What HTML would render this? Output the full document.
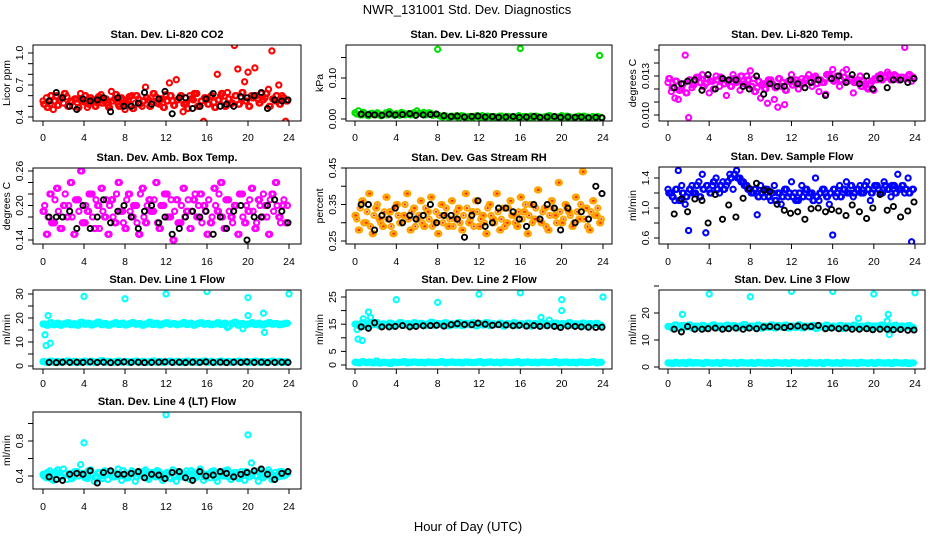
<!DOCTYPE html>
<html><head><meta charset="utf-8"><style>
html,body{margin:0;padding:0;background:#fff;}
svg{display:block;font-family:"Liberation Sans",Arial,sans-serif;}
</style></head><body>
<svg id="chart" width="936" height="540" viewBox="0 0 936 540" xmlns="http://www.w3.org/2000/svg">
<rect width="936" height="540" fill="#fff"/>
<text x="467" y="14" text-anchor="middle" font-size="13">NWR_131001  Std. Dev. Diagnostics</text>
<text x="468" y="531" text-anchor="middle" font-size="13">Hour of Day (UTC)</text>
<g id="panels"></g>
</svg>
<script>
const hC=[0,0.33,0.67,1,1.33,1.67,2,2.33,2.67,3,3.33,3.67,4,4.33,4.67,5,5.33,5.67,6,6.33,6.67,7,7.33,7.67,8,8.33,8.67,9,9.33,9.67,10,10.33,10.67,11,11.33,11.67,12,12.33,12.67,13,13.33,13.67,14,14.33,14.67,15,15.33,15.67,16,16.33,16.67,17,17.33,17.67,18,18.33,18.67,19,19.33,19.67,20,20.33,20.67,21,21.33,21.67,22,22.33,22.67,23,23.33,23.67];
const hK=[0.6,1.3,1.9,2.6,3.3,3.9,4.6,5.3,5.9,6.6,7.3,7.9,8.6,9.3,9.9,10.6,11.3,11.9,12.6,13.3,13.9,14.6,15.3,15.9,16.6,17.3,17.9,18.6,19.3,19.9,20.6,21.3,21.9,22.6,23.3,23.9];
const xTicks=[0,4,8,12,16,20,24];

const co2A=[0.55,0.58,0.52,0.47,0.60,0.56,0.53,0.59,0.55,0.50,0.57,0.62,0.54,0.49,0.58,0.56,0.53,0.61,0.55,0.51,0.64,0.57,0.52,0.58,0.47,0.55,0.60,0.53,0.57,0.50,0.68,0.56,0.54,0.59,0.52,0.57,0.61,0.72,0.55,0.75,0.58,0.45,0.53,0.60,0.56,0.62,0.50,0.36,0.57,0.59,0.54,0.80,0.60,0.55,0.63,0.52,1.07,0.85,0.58,0.73,0.82,0.60,0.86,0.56,0.62,0.58,0.66,1.02,0.55,0.70,0.60,0.36];
const co2B=[0.52,0.49,0.6,0.55,0.51,0.58,0.62,0.5,0.54,0.57,0.49,0.55,0.6,0.52,0.56,0.5,0.59,0.53,0.57,0.49,0.55,0.61,0.5,0.56,0.53,0.59,0.48,0.6,0.52,0.55,0.58,0.5,0.62,0.53,0.57,0.49,0.55,0.6,0.51,0.56,0.6,0.52,0.48,0.57,0.62,0.5,0.55,0.58,0.52,0.6,0.49,0.56,0.62,0.5,0.57,0.53,0.6,0.52,0.63,0.55,0.5,0.58,0.6,0.53,0.56,0.62,0.5,0.57,0.6,0.52,0.58,0.55];
const co2K=[0.55,0.63,0.58,0.5,0.47,0.57,0.55,0.56,0.58,0.45,0.58,0.5,0.5,0.53,0.63,0.52,0.57,0.64,0.43,0.58,0.58,0.48,0.5,0.57,0.62,0.5,0.52,0.5,0.59,0.58,0.6,0.63,0.48,0.56,0.55,0.56];

const presA=[0.015,0.02,0.01,0.012,0.008,0.014,0.01,0.012,0.009,0.015,0.018,0.011,0.013,0.009,0.014,0.012,0.01,0.015,0.02,0.013,0.016,0.012,0.014,0.01,0.17,0.006,0.008,0.005,0.007,0.006,0.004,0.008,0.005,0.006,0.004,0.007,0.005,0.008,0.004,0.006,0.005,0.003,0.007,0.004,0.006,0.005,0.003,0.004,0.172,0.006,0.005,0.007,0.004,0.006,0.003,0.005,0.007,0.004,0.006,0.005,0.008,0.004,0.006,0.003,0.005,0.007,0.004,0.005,0.003,0.006,0.004,0.155];
const presB=[0.012,0.01,0.016,0.009,0.013,0.011,0.015,0.008,0.012,0.01,0.014,0.009,0.012,0.016,0.01,0.013,0.011,0.009,0.014,0.012,0.01,0.015,0.009,0.012,0.008,0.005,0.007,0.004,0.006,0.008,0.005,0.007,0.004,0.006,0.005,0.008,0.003,0.006,0.007,0.004,0.006,0.005,0.007,0.004,0.006,0.003,0.005,0.008,0.004,0.006,0.005,0.003,0.007,0.005,0.004,0.006,0.008,0.005,0.003,0.006,0.004,0.007,0.005,0.003,0.006,0.004,0.007,0.005,0.003,0.004,0.006,0.004];
const presK=[0.012,0.011,0.01,0.009,0.012,0.01,0.011,0.013,0.009,0.01,0.011,0.012,0.008,0.006,0.007,0.005,0.006,0.007,0.005,0.006,0.004,0.005,0.006,0.004,0.005,0.006,0.004,0.005,0.006,0.004,0.005,0.004,0.005,0.003,0.004,0.003];

const tempA=[0.0125,0.0118,0.0113,0.0112,0.0120,0.0146,0.0098,0.0121,0.0126,0.0129,0.0131,0.0124,0.0117,0.0126,0.0130,0.0122,0.0128,0.0115,0.0127,0.0131,0.0125,0.0119,0.0126,0.0130,0.0134,0.0128,0.0121,0.0113,0.0124,0.0109,0.0127,0.0112,0.0106,0.0122,0.0108,0.0126,0.0131,0.0125,0.0120,0.0128,0.0127,0.0131,0.0122,0.0130,0.0118,0.0125,0.0116,0.0131,0.0135,0.0127,0.0122,0.0133,0.0135,0.0128,0.0117,0.0125,0.0130,0.0126,0.0121,0.0124,0.0119,0.0127,0.0131,0.0129,0.0133,0.0127,0.0131,0.0128,0.0129,0.0152,0.0130,0.0126];
const tempB=[0.0128,0.0121,0.0126,0.0119,0.0124,0.0117,0.0127,0.0123,0.0129,0.0125,0.0122,0.0128,0.0126,0.0120,0.0127,0.0129,0.0124,0.0126,0.0122,0.0128,0.0126,0.0130,0.0124,0.0127,0.0122,0.0118,0.0126,0.0123,0.0120,0.0127,0.0124,0.0121,0.0128,0.0125,0.0119,0.0126,0.0123,0.0127,0.0125,0.0124,0.0128,0.0126,0.0129,0.0124,0.0127,0.0125,0.0131,0.0128,0.0126,0.0130,0.0127,0.0129,0.0126,0.0128,0.0125,0.0127,0.0122,0.0124,0.0120,0.0126,0.0128,0.0130,0.0127,0.0129,0.0131,0.0128,0.0130,0.0127,0.0129,0.0128,0.0131,0.0129];
const tempK=[0.0121,0.0124,0.0126,0.0127,0.0119,0.0131,0.0120,0.0128,0.0127,0.0127,0.0122,0.0120,0.0130,0.0116,0.0124,0.0122,0.0122,0.0127,0.0124,0.0121,0.0125,0.0127,0.0115,0.0128,0.0130,0.0125,0.0131,0.0124,0.0130,0.0120,0.0128,0.0121,0.0127,0.0127,0.0125,0.0128];

const ambA=[0.19,0.15,0.22,0.17,0.23,0.16,0.2,0.18,0.24,0.15,0.21,0.26,0.17,0.19,0.22,0.16,0.2,0.23,0.18,0.15,0.21,0.17,0.24,0.19,0.16,0.22,0.18,0.2,0.15,0.23,0.17,0.21,0.19,0.24,0.16,0.2,0.22,0.18,0.14,0.21,0.17,0.23,0.19,0.16,0.21,0.18,0.22,0.2,0.15,0.17,0.23,0.19,0.24,0.16,0.21,0.18,0.2,0.15,0.22,0.17,0.19,0.23,0.16,0.21,0.18,0.2,0.15,0.22,0.24,0.18,0.2,0.17];
const ambB=[0.2,0.18,0.17,0.21,0.19,0.16,0.22,0.2,0.18,0.21,0.19,0.17,0.2,0.22,0.18,0.21,0.16,0.19,0.21,0.2,0.18,0.22,0.19,0.17,0.21,0.19,0.2,0.17,0.22,0.18,0.2,0.19,0.21,0.17,0.2,0.22,0.18,0.21,0.19,0.17,0.2,0.18,0.21,0.19,0.22,0.2,0.17,0.19,0.21,0.18,0.2,0.22,0.18,0.21,0.19,0.17,0.2,0.22,0.18,0.2,0.21,0.19,0.17,0.2,0.22,0.18,0.21,0.19,0.2,0.17,0.21,0.2];
const ambK=[0.18,0.18,0.18,0.19,0.16,0.2,0.16,0.18,0.21,0.17,0.19,0.2,0.18,0.16,0.19,0.2,0.17,0.18,0.15,0.16,0.18,0.19,0.18,0.19,0.15,0.18,0.16,0.19,0.2,0.14,0.18,0.18,0.2,0.21,0.19,0.17];

const rhA=[0.32,0.28,0.36,0.3,0.38,0.27,0.34,0.31,0.29,0.37,0.33,0.27,0.35,0.3,0.32,0.38,0.28,0.34,0.31,0.36,0.29,0.33,0.37,0.3,0.27,0.35,0.32,0.29,0.36,0.31,0.34,0.28,0.38,0.3,0.33,0.36,0.29,0.32,0.27,0.35,0.31,0.38,0.28,0.34,0.3,0.36,0.32,0.29,0.37,0.33,0.27,0.35,0.31,0.39,0.3,0.34,0.28,0.36,0.32,0.41,0.3,0.35,0.33,0.29,0.37,0.31,0.44,0.34,0.28,0.36,0.32,0.3];
const rhB=[0.31,0.34,0.3,0.33,0.29,0.32,0.35,0.3,0.33,0.31,0.29,0.34,0.32,0.3,0.35,0.31,0.33,0.29,0.32,0.3,0.34,0.31,0.29,0.33,0.32,0.3,0.34,0.31,0.29,0.33,0.3,0.32,0.34,0.31,0.29,0.33,0.31,0.3,0.34,0.32,0.3,0.33,0.31,0.29,0.34,0.32,0.3,0.33,0.31,0.35,0.32,0.3,0.34,0.31,0.33,0.29,0.32,0.34,0.3,0.33,0.31,0.34,0.32,0.3,0.33,0.35,0.31,0.29,0.33,0.32,0.34,0.31];
const rhK=[0.35,0.35,0.28,0.32,0.31,0.34,0.3,0.32,0.31,0.32,0.35,0.3,0.32,0.32,0.31,0.26,0.32,0.36,0.29,0.3,0.34,0.34,0.33,0.31,0.29,0.35,0.31,0.35,0.34,0.28,0.34,0.3,0.33,0.31,0.4,0.38];

const flowA=[1.25,1.2,1.1,1.5,1.3,1.05,0.7,1.3,1.2,1.35,1.45,0.67,1.25,1.3,1.4,1.2,1.35,1.3,1.45,1.25,1.5,1.4,1.35,1.3,1.25,1.2,0.91,1.3,1.15,1.25,1.1,1.3,1.2,1.05,1.25,1.15,1.35,1.2,1.1,1.3,1.25,1.15,1.2,1.4,1.1,1.25,1.2,1.05,0.64,1.15,1.3,1.25,1.35,1.2,1.15,1.25,1.3,1.2,1.35,1.1,1.25,1.3,1.2,1.35,1.25,1.15,1.3,1.45,1.25,1.2,1.4,0.55];
const flowB=[1.2,1.15,1.25,1.1,1.2,1.15,1.25,1.2,1.3,1.15,1.25,1.3,1.2,1.35,1.25,1.3,1.25,1.35,1.4,1.45,1.4,1.35,1.3,1.25,1.2,1.25,1.15,1.2,1.25,1.15,1.2,1.1,1.2,1.15,1.25,1.2,1.15,1.1,1.2,1.15,1.25,1.2,1.1,1.15,1.2,1.25,1.15,1.2,1.25,1.2,1.15,1.25,1.2,1.3,1.2,1.25,1.2,1.3,1.25,1.2,1.3,1.25,1.2,1.3,1.25,1.3,1.2,1.25,1.3,1.25,1.2,1.25];
const flowK=[0.92,1.12,0.95,1.12,1.1,0.8,1.18,0.85,1.04,0.88,1.13,1.26,1.33,1.24,1.22,1.05,0.97,0.93,0.95,0.85,0.99,1.0,0.95,0.98,0.96,0.9,1.04,0.95,0.86,1.0,1.18,0.97,1.02,0.88,0.96,1.08];

const l1Band=[17.5,17,18,17.2,17.8,17,17.5,18,17.2,17.6,17,18.2,17.4,17.8,17.1,17.6,18.3,17.2,17.7,17,17.5,18,17.3,17.8,17.1,17.6,18.1,17.4,17.7,17,17.5,18.2,17.3,17.8,17.1,17.6,18,17.4,17.7,17.2,17.5,18.1,17.3,17.8,17,17.6,18,17.4,17.7,17.2,17.5,18,17.3,17.8,16.5,17.6,18.2,17,17.7,17.2,17.5,18,17.3,17.8,17.1,17.6,18.1,17.4,17.7,17.2,17.5,17.8];
const l1Low=[1.8,1.5,2,1.6,1.9,1.5,1.8,2.1,1.6,1.9,1.5,1.8,2,1.6,1.9,1.5,1.8,2.2,1.6,1.9,1.5,1.8,2,1.6,1.9,1.5,1.8,2,1.6,1.9,1.5,1.8,2.1,1.6,1.9,1.5,1.8,2,1.6,1.9,1.5,1.8,2,1.6,1.9,1.5,1.8,2.1,1.6,1.9,1.5,1.8,2,1.6,1.9,1.5,1.8,2,1.6,1.9,1.5,1.8,2,1.6,1.9,1.5,1.8,2,1.6,1.9,1.5,1.8];
const l1OutH=[0.2,0.3,0.5,0.7,4,8,12,16,18,19.5,20,20,21.5,21.6,24];
const l1OutV=[13,8.5,21,9.5,29,28,30,31,16,15.5,28.5,21,22,14,30];
const l1K=[1.5,1.4,1.6,1.5,1.6,1.5,1.7,1.5,1.6,1.4,1.5,1.7,1.5,1.6,1.4,1.5,1.6,1.7,1.5,1.6,1.4,1.6,1.5,1.7,1.5,1.6,1.4,1.6,1.5,1.7,1.5,1.6,1.4,1.5,1.6,1.5];

const l2Band=[15,14.5,15.5,14.2,15.3,14.8,15.6,14.4,15.1,14.7,15.4,14.3,15,15.6,14.6,15.2,14.4,15.5,14.9,15.3,14.5,15.1,15.7,14.6,15.2,14.8,15.5,14.4,15.1,14.7,15.6,14.5,15.3,14.8,15.5,14.4,15.2,14.7,15.6,14.5,15.1,14.9,15.4,14.3,15.2,14.8,15.5,14.6,15.1,14.7,15.4,14.3,15.2,14.8,15.5,14.6,15.1,14.7,15.4,14.3,15.2,14.8,15.5,14.6,15.1,14.7,15.4,14.3,15.2,14.8,15.3,14.6];
const l2Low=[1,0.8,1.2,0.9,1.1,0.8,1.4,0.7,1,0.9,0.6,1.1,0.9,1,1.2,0.8,1,1.1,0.9,1,0.8,1.1,1,0.9,1,1.2,0.8,1,1.1,0.9,1,0.8,1.1,1,0.9,1,1.2,0.8,1,1.1,0.9,1,0.8,1.1,1,0.9,1,1.2,0.8,1,1.1,0.9,1,0.8,1.1,1,0.9,1,1.2,0.8,1,1.1,0.9,1,0.8,1.1,1,0.9,1,1.2,0.8,1];
const l2OutH=[0.2,0.3,0.7,0.8,1.3,1.5,4,8,12,16,18,18.8,20,20,24];
const l2OutV=[13,9.5,9,17,19.5,17.5,24,23,26,26.5,17.5,16.5,24,20,25];
const l2K=[14,13.5,15.5,14,14,14.2,14.5,14,14.2,14.4,14.5,14.6,14.3,14.8,15.2,14.9,14.8,15.4,15,14.6,14.8,14.7,14.4,14.6,14.3,14.5,14.2,14.4,14.2,13.8,14.3,14.2,14,13.9,13.8,13.9];

const l3Band=[15,14.5,15.6,14.3,15.3,14.8,15.6,14.4,15.1,14.7,15.4,14.3,15,15.6,14.6,15.2,14.4,15.5,14.9,15.3,14.5,15.1,15.7,14.6,15.2,14.8,15.5,14.4,15.1,14.7,15.6,14.5,15.3,14.8,15.5,14.4,15.2,14.7,15.6,14.5,15.1,14.9,15.4,14.3,15.2,14.8,15.5,14.6,15.1,14.7,15.4,14.3,15.2,14.8,15.5,14.6,15.1,14.7,15.4,14.3,15.2,14.8,15.5,14.6,15.1,14.7,15.4,14.3,15.2,14.8,15.3,14.6];
const l3Low=[1.5,1.3,1.7,1.4,1.6,1.3,1.8,1.4,1.6,1.5,1.3,1.7,1.5,1.4,1.6,1.3,1.7,1.5,1.4,1.6,1.3,1.7,1.5,1.4,1.6,1.3,1.7,1.5,1.4,1.6,1.3,1.7,1.5,1.4,1.6,1.3,1.7,1.5,1.4,1.6,1.3,1.7,1.5,1.4,1.6,1.3,1.7,1.5,1.4,1.6,1.3,1.7,1.5,1.4,1.6,1.3,1.7,1.5,1.4,1.6,1.3,1.7,1.5,1.4,1.6,1.3,1.7,1.5,1.4,1.6,1.3,1.5];
const l3OutH=[1.4,4,8,12,16,18.5,20,21.3,21.4,21.5,24];
const l3OutV=[19.5,27,26,28,28,18,27,17,19.5,12,27.5];
const l3K=[14,13,15,14,14,14.2,14.4,14,14.2,14.4,14,14.4,14.2,14.8,15,14.8,14.6,15,15.2,14.8,15,15.4,14.2,14.4,14.2,14.4,14,14,14.2,13.8,14,14,13.8,13.9,13.6,13.7];

const l4A=[0.42,0.38,0.46,0.35,0.44,0.4,0.48,0.36,0.43,0.39,0.45,0.53,0.41,0.37,0.47,0.34,0.43,0.4,0.46,0.36,0.44,0.39,0.48,0.35,0.42,0.38,0.46,0.34,0.43,0.4,0.47,0.36,0.44,0.39,0.45,0.35,0.42,0.38,0.47,0.34,0.43,0.4,0.46,0.36,0.44,0.39,0.48,0.35,0.42,0.38,0.46,0.34,0.43,0.4,0.47,0.36,0.44,0.39,0.45,0.35,0.42,0.55,0.46,0.34,0.43,0.4,0.47,0.36,0.44,0.39,0.45,0.41];
const l4B=[0.4,0.44,0.37,0.42,0.47,0.39,0.43,0.41,0.37,0.45,0.4,0.43,0.38,0.46,0.41,0.39,0.44,0.37,0.42,0.45,0.39,0.43,0.4,0.46,0.38,0.42,0.44,0.39,0.41,0.45,0.38,0.43,0.4,0.46,0.39,0.42,0.44,0.37,0.41,0.45,0.39,0.43,0.4,0.46,0.38,0.42,0.44,0.39,0.41,0.45,0.38,0.43,0.4,0.46,0.39,0.42,0.44,0.37,0.41,0.45,0.39,0.43,0.4,0.46,0.38,0.42,0.44,0.39,0.41,0.45,0.4,0.43];
const l4OutH=[4,12,20];
const l4OutV=[0.78,1.1,0.87];
const l4K=[0.39,0.36,0.35,0.42,0.43,0.42,0.46,0.32,0.44,0.46,0.42,0.42,0.43,0.45,0.38,0.42,0.41,0.37,0.44,0.45,0.38,0.35,0.45,0.4,0.41,0.45,0.43,0.39,0.42,0.44,0.46,0.48,0.42,0.36,0.43,0.45];

const NS='http://www.w3.org/2000/svg';
const root=document.getElementById('panels');
function mk(tag,attrs,parent){const e=document.createElementNS(NS,tag);for(const k in attrs)e.setAttribute(k,attrs[k]);parent.appendChild(e);return e;}

const panels=[
 {key:'co2',title:'Stan. Dev. Li-820 CO2',ylab:'Licor ppm',box:[33,45,301,121],xp:[43,289],yv:[0.4,1.0],yp:[117,53],yt:[0.4,0.5,0.6,0.7,0.8,0.9,1.0],yl:{'0.4':'0.4','0.7':'0.7','1':'1.0'},lblY:141,
  series:[{h:hC,v:co2A,c:'#ff0000'},{h:hC,v:co2B,c:'#ff0000',off:0.17},{h:hC,v:co2B,c:'#ff0000',off:0.08},{h:hK,v:co2K,c:'#000'}]},
 {key:'pressure',title:'Stan. Dev. Li-820 Pressure',ylab:'kPa',box:[346,45,612,121],xp:[355,603],yv:[0,0.1],yp:[119,78],yt:[0,0.05,0.1,0.15],yl:{'0':'0.00','0.1':'0.10'},lblY:141,
  series:[{h:hC,v:presA,c:'#00e000'},{h:hC,v:presB,c:'#00e000',off:0.17},{h:hK,v:presK,c:'#000'}]},
 {key:'temp',title:'Stan. Dev. Li-820 Temp.',ylab:'degrees C',box:[659,45,925,121],xp:[668,915],yv:[0.010,0.015],yp:[115,50],yt:[0.010,0.011,0.012,0.013,0.014,0.015],yl:{'0.01':'0.010','0.013':'0.013'},lblY:141,
  series:[{h:hC,v:tempA,c:'#ff00ff'},{h:hC,v:tempB,c:'#ff00ff',off:0.17},{h:hC,v:tempB,c:'#ff00ff',off:0.08},{h:hK,v:tempK,c:'#000'}]},
 {key:'ambbox',title:'Stan. Dev. Amb. Box Temp.',ylab:'degrees C',box:[33,168,301,244],xp:[43,289],yv:[0.14,0.26],yp:[240,171],yt:[0.14,0.16,0.18,0.2,0.22,0.24,0.26],yl:{'0.14':'0.14','0.2':'0.20','0.26':'0.26'},lblY:265,
  series:[{h:hC,v:ambA,c:'#ff00ff'},{h:hC,v:ambB,c:'#ff00ff',off:0.17},{h:hC,v:ambA,c:'#ff00ff',off:0.12},{h:hK,v:ambK,c:'#000'}]},
 {key:'rh',title:'Stan. Dev. Gas Stream RH',ylab:'percent',box:[346,168,612,244],xp:[355,603],yv:[0.25,0.45],yp:[241,168],yt:[0.25,0.3,0.35,0.4,0.45],yl:{'0.25':'0.25','0.35':'0.35','0.45':'0.45'},lblY:265,
  series:[{h:hC,v:rhA,c:'#ffa500',dot:'#ff2000'},{h:hC,v:rhB,c:'#ffa500',dot:'#ff2000',off:0.17},{h:hC,v:rhA,c:'#ffa500',dot:'#ff2000',off:0.1},{h:hK,v:rhK,c:'#000'}]},
 {key:'sampleflow',title:'Stan. Dev. Sample Flow',ylab:'ml/min',box:[659,167,925,244],xp:[668,915],yv:[0.6,1.4],yp:[238,178],yt:[0.6,0.8,1.0,1.2,1.4],yl:{'0.6':'0.6','1':'1.0','1.4':'1.4'},lblY:265,
  series:[{h:hC,v:flowA,c:'#0000ff'},{h:hC,v:flowB,c:'#0000ff',off:0.17},{h:hC,v:flowB,c:'#0000ff',off:0.08},{h:hK,v:flowK,c:'#000'}]},
 {key:'line1',title:'Stan. Dev. Line 1 Flow',ylab:'ml/min',box:[33,290,301,369],xp:[43,289],yv:[0,30],yp:[366,294],yt:[0,5,10,15,20,25,30],yl:{'0':'0','10':'10','20':'20','30':'30'},lblY:387,
  series:[{h:hC,v:l1Band,c:'#00ffff'},{h:hC,v:l1Band,c:'#00ffff',off:0.17},{h:hC,v:l1Low,c:'#00ffff'},{h:hC,v:l1Low,c:'#00ffff',off:0.17},{h:l1OutH,v:l1OutV,c:'#00ffff'},{h:hK,v:l1K,c:'#000'}]},
 {key:'line2',title:'Stan. Dev. Line 2 Flow',ylab:'ml/min',box:[346,290,612,369],xp:[355,603],yv:[0,25],yp:[365,297],yt:[0,5,10,15,20,25],yl:{'0':'0','5':'5','15':'15','25':'25'},lblY:387,
  series:[{h:hC,v:l2Band,c:'#00ffff'},{h:hC,v:l2Band,c:'#00ffff',off:0.17},{h:hC,v:l2Low,c:'#00ffff'},{h:hC,v:l2Low,c:'#00ffff',off:0.17},{h:l2OutH,v:l2OutV,c:'#00ffff'},{h:hK,v:l2K,c:'#000'}]},
 {key:'line3',title:'Stan. Dev. Line 3 Flow',ylab:'ml/min',box:[659,290,925,369],xp:[668,915],yv:[0,20],yp:[367,313],yt:[0,10,20,30],yl:{'0':'0','10':'10','20':'20'},lblY:387,
  series:[{h:hC,v:l3Band,c:'#00ffff'},{h:hC,v:l3Band,c:'#00ffff',off:0.17},{h:hC,v:l3Low,c:'#00ffff'},{h:hC,v:l3Low,c:'#00ffff',off:0.17},{h:l3OutH,v:l3OutV,c:'#00ffff'},{h:hK,v:l3K,c:'#000'}]},
 {key:'line4',title:'Stan. Dev. Line 4 (LT) Flow',ylab:'ml/min',box:[33,412,301,489],xp:[43,289],yv:[0.4,0.8],yp:[476,441],yt:[0.4,0.6,0.8,1.0],yl:{'0.4':'0.4','0.8':'0.8'},lblY:510,
  series:[{h:hC,v:l4A,c:'#00ffff'},{h:hC,v:l4B,c:'#00ffff',off:0.17},{h:hC,v:l4B,c:'#00ffff',off:0.08},{h:l4OutH,v:l4OutV,c:'#00ffff'},{h:hK,v:l4K,c:'#000'}]}
];

panels.forEach(p=>{
  const g=mk('g',{},root);
  
  
  const [l,t,r,b]=p.box;
  const xs=h=>p.xp[0]+(h/24)*(p.xp[1]-p.xp[0]);
  const ys=v=>p.yp[0]+(v-p.yv[0])/(p.yv[1]-p.yv[0])*(p.yp[1]-p.yp[0]);
  const tt=mk('text',{x:(l+r)/2,y:t-7,'text-anchor':'middle','font-size':'11','font-weight':'bold'},g);
  tt.textContent=p.title;
  
  
  const clip=mk('clipPath',{id:'clip-'+p.key},g);
  mk('rect',{x:l,y:t,width:r-l,height:b-t},clip);
  const marks=mk('g',{'clip-path':'url(#clip-'+p.key+')'},g);
  p.series.forEach(s=>{
    const n=Math.min(s.h.length,s.v.length);
    const black=s.c==='#000';
    for(let i=0;i<n;i++){
      const cx=xs(s.h[i]+(s.off||0)), cy=ys(s.v[i]);
      const c=mk('circle',{cx:cx.toFixed(1),cy:cy.toFixed(1),r:black?2.6:2.6,fill:'none',stroke:s.c,'stroke-width':black?1.9:2.1},marks);
      
      
      if(s.dot){mk('circle',{cx:cx.toFixed(1),cy:cy.toFixed(1),r:1.1,fill:s.dot},marks);}
    }
  });
  const box=mk('rect',{x:l,y:t,width:r-l,height:b-t,fill:'none',stroke:'#000','stroke-width':1},g);
  
  
  const xa=mk('g',{},g);
  
  
  xTicks.forEach(v=>{
    const x=xs(v);
    mk('line',{x1:x,x2:x,y1:b,y2:b+5,stroke:'#000'},xa);
    const tx=mk('text',{x:x,y:p.lblY,'text-anchor':'middle','font-size':'10.5'},xa);
    tx.textContent=String(v);
  });
  const ya=mk('g',{},g);
  
  
  p.yt.forEach(v=>{
    const y=ys(v);
    mk('line',{x1:l-5,x2:l,y1:y,y2:y,stroke:'#000'},ya);
    const key=String(+v.toFixed(4));
    if(p.yl[key]!==undefined){
      const tx=mk('text',{x:0,y:0,'text-anchor':'middle','font-size':'10.5',transform:'translate('+(l-10)+','+y+') rotate(-90)'},ya);
      tx.textContent=p.yl[key];
    }
  });
  const yt=mk('text',{x:0,y:0,'text-anchor':'middle','font-size':'10.5',transform:'translate('+(l-23)+','+((t+b)/2)+') rotate(-90)'},g);
  yt.textContent=p.ylab;
  
  
});
</script>
</body></html>
